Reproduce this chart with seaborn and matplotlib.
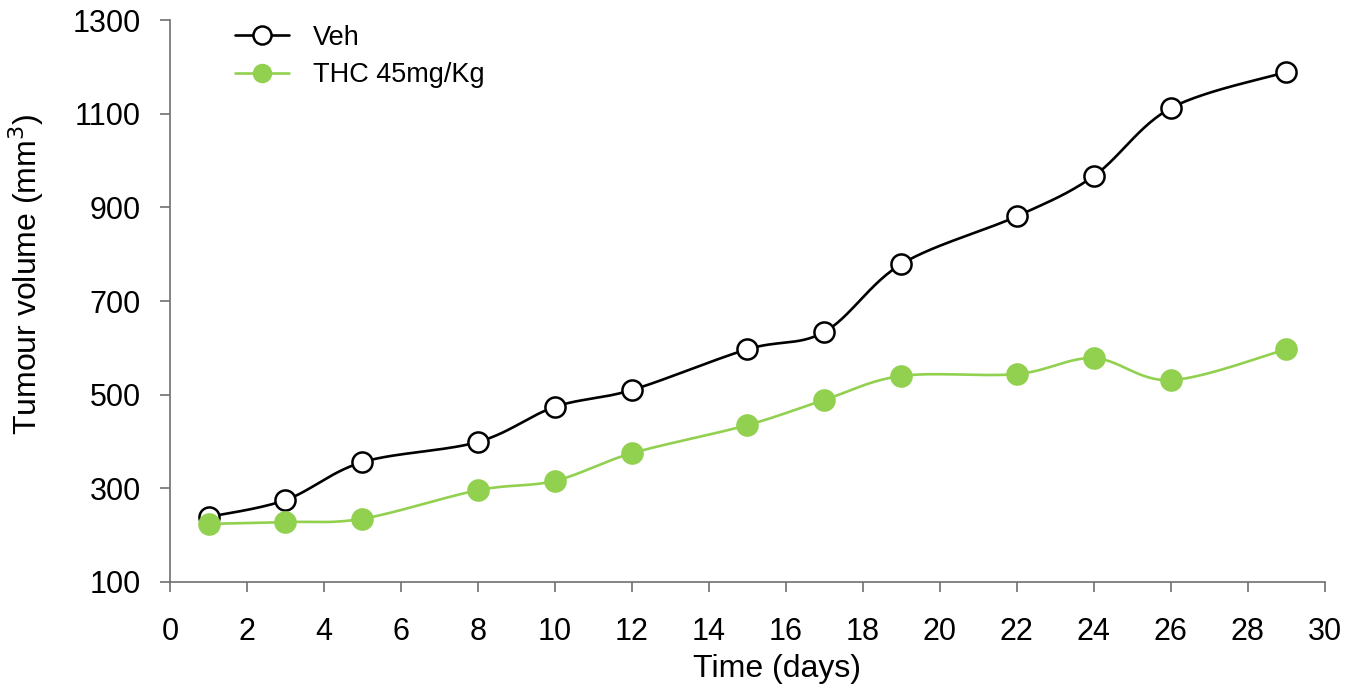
import numpy as np
import pandas as pd
import matplotlib
matplotlib.use("Agg")
import matplotlib.pyplot as plt
from matplotlib.lines import Line2D
import seaborn as sns

days = [1, 3, 5, 8, 10, 12, 15, 17, 19, 22, 24, 26, 29]
veh = [239, 275, 356, 399, 474, 510, 597, 634, 779, 881, 967, 1112, 1189]
thc = [224, 228, 235, 296, 316, 375, 435, 489, 540, 544, 578, 531, 597]
series_names = ["Veh", "THC 45mg/Kg"]
x_ticks = list(range(0, 31, 2))
y_ticks = [100, 300, 500, 700, 900, 1100, 1300]

GREEN = "#92D050"

sns.set_style("ticks")
plt.rcParams["font.family"] = ["Liberation Sans", "DejaVu Sans"]
plt.rcParams["text.color"] = "black"
plt.rcParams["axes.labelcolor"] = "black"
plt.rcParams["xtick.labelcolor"] = "black"
plt.rcParams["ytick.labelcolor"] = "black"


def smooth(xs, ys, n=30):
    """Excel-like smoothed line (Catmull-Rom Bezier) through the data points."""
    P = np.column_stack([xs, ys]).astype(float)
    out = [P[0]]
    m = len(P)
    for i in range(m - 1):
        p0 = P[i - 1] if i > 0 else P[i]
        p1 = P[i]
        p2 = P[i + 1]
        p3 = P[i + 2] if i + 2 < m else P[i + 1]
        c1 = p1 + (p2 - p0) / 6.0
        c2 = p2 - (p3 - p1) / 6.0
        t = np.linspace(0, 1, n)[1:, None]
        seg = ((1 - t) ** 3) * p1 + 3 * ((1 - t) ** 2) * t * c1 + 3 * (1 - t) * t ** 2 * c2 + t ** 3 * p2
        out.extend(seg)
    out = np.array(out)
    return out[:, 0], out[:, 1]


fig = plt.figure(figsize=(13.45, 6.92), dpi=100)
ax = fig.add_axes([0.1264, 0.159, 0.8586, 0.812])

for vals, color, face in [(veh, "black", "white"), (thc, GREEN, GREEN)]:
    sx, sy = smooth(days, vals)
    sdf = pd.DataFrame({"x": sx, "y": sy})
    sns.lineplot(data=sdf, x="x", y="y", sort=False, color=color, linewidth=1.9, ax=ax, zorder=2)
    df = pd.DataFrame({"x": days, "y": vals})
    sns.scatterplot(data=df, x="x", y="y", s=210, color=face,
                    edgecolor=color, linewidth=1.8, ax=ax, zorder=3)

ax.set_xlim(0, 30)
ax.set_ylim(100, 1300)
ax.set_xticks(x_ticks)
ax.set_yticks(y_ticks)
ax.tick_params(axis="both", labelsize=22, length=7, width=1.2, color="#707070",
               direction="out", labelcolor="black")
ax.tick_params(axis="x", pad=18)
ax.tick_params(axis="y", pad=14)
for s in ["top", "right"]:
    ax.spines[s].set_visible(False)
for s in ["left", "bottom"]:
    ax.spines[s].set_color("#707070")
    ax.spines[s].set_linewidth(1.2)

ax.set_xlabel("Time (days)", fontsize=23)
ax.set_ylabel("Tumour volume (mm$^3$)", fontsize=23)
ax.xaxis.set_label_coords(0.526, -0.128)
ax.yaxis.set_label_coords(-0.107, 0.548)

handles = [
    Line2D([0], [0], color="black", lw=1.9, marker="o", markersize=13,
           markerfacecolor="white", markeredgecolor="black", markeredgewidth=1.8),
    Line2D([0], [0], color=GREEN, lw=1.9, marker="o", markersize=13,
           markerfacecolor=GREEN, markeredgecolor=GREEN),
]
ax.legend(handles, series_names, loc="upper left", bbox_to_anchor=(0.035, 1.035),
          frameon=False, fontsize=19.5, handlelength=2.0, handletextpad=0.9,
          labelspacing=0.42)

fig.savefig("out.png", dpi=100)
